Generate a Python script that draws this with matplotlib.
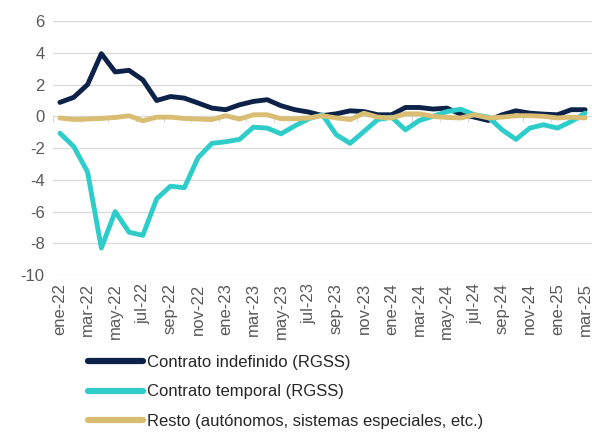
import numpy as np
import matplotlib
matplotlib.use("Agg")
import matplotlib.pyplot as plt
from matplotlib.lines import Line2D

plt.rcParams["font.family"] = ["Liberation Sans", "DejaVu Sans"]
plt.rcParams["axes.unicode_minus"] = False

# ------------------------------------------------------------
# data (monthly, ene-22 .. mar-25)
# ------------------------------------------------------------
months = ["ene", "feb", "mar", "abr", "may", "jun",
          "jul", "ago", "sep", "oct", "nov", "dic"]
years = ["22", "23", "24", "25"]
periods = [f"{m}-{y}" for y in years for m in months][:39]

indefinido = [0.88, 1.2, 2.0, 3.95, 2.8, 2.9, 2.3, 1.0, 1.25, 1.15,
              0.84, 0.52, 0.42, 0.73, 0.94, 1.05, 0.67, 0.42, 0.27, 0.05,
              0.16, 0.35, 0.3, 0.1, 0.1, 0.56, 0.56, 0.46, 0.52, 0.14,
              -0.05, -0.26, 0.1, 0.35, 0.2, 0.14, 0.1, 0.42, 0.42]

temporal = [-1.06, -1.9, -3.5, -8.3, -6.0, -7.3, -7.5, -5.2, -4.4, -4.5,
            -2.6, -1.7, -1.6, -1.45, -0.68, -0.74, -1.1, -0.6, -0.15, 0.1,
            -1.16, -1.7, -0.95, -0.2, -0.05, -0.85, -0.26, 0.0, 0.3, 0.45,
            0.1, -0.05, -0.85, -1.45, -0.74, -0.53, -0.74, -0.32, 0.2]

resto = [-0.1, -0.2, -0.17, -0.13, -0.07, 0.04, -0.28, -0.05, -0.05, -0.13,
         -0.17, -0.2, 0.04, -0.17, 0.1, 0.1, -0.15, -0.15, -0.1, 0.04,
         -0.1, -0.2, 0.2, -0.05, -0.1, 0.16, 0.16, 0.0, -0.07, -0.1,
         0.1, -0.1, -0.05, 0.04, 0.04, 0.0, -0.1, -0.05, -0.1]

series_names = ["Contrato indefinido (RGSS)",
                "Contrato temporal (RGSS)",
                "Resto (autónomos, sistemas especiales, etc.)"]
series_colors = ["#0c2249", "#2ecdca", "#d8bd72"]

y_ticks = [6, 4, 2, 0, -2, -4, -6, -8, -10]

# ------------------------------------------------------------
fig = plt.figure(figsize=(5.92, 4.32), dpi=100)
ax = fig.add_axes([0.0895, 0.3634, 0.9105, 0.5876])

x = np.arange(len(periods))
for vals, col, name in zip([indefinido, temporal, resto], series_colors, series_names):
    ax.plot(x, vals, color=col, lw=3.5, solid_joinstyle="round",
            solid_capstyle="round", label=name, zorder=3)

ax.set_xlim(-0.5, len(periods) - 0.5)
ax.set_ylim(-10, 6)
ax.set_yticks(y_ticks)
ax.yaxis.grid(True, color="#d9d9d9", lw=0.9, zorder=0)
ax.tick_params(axis="y", length=0, pad=6, labelsize=12, labelcolor="#595959")

for s in ["top", "right", "left"]:
    ax.spines[s].set_visible(False)

# category axis crosses at zero, tick marks between categories
ax.spines["bottom"].set_position(("data", 0))
ax.spines["bottom"].set_color("#d9d9d9")
ax.set_xticks(np.arange(-0.5, len(periods), 2))
ax.tick_params(axis="x", length=4, color="#d9d9d9", labelbottom=False)

# labels at the bottom of the plot
sec = ax.secondary_xaxis(0.0)
sec.set_xticks(x[::2])
sec.set_xticklabels(periods[::2], rotation=90, fontsize=12, color="#595959")
sec.tick_params(length=0, pad=6)
sec.spines["bottom"].set_visible(False)

handles = [Line2D([], [], color=c, lw=4.5, solid_capstyle="round") for c in series_colors]
fig.legend(handles, series_names, loc="upper left", bbox_to_anchor=(0.135, 0.197),
           frameon=False, fontsize=12, handlelength=3.3, handletextpad=0.25,
           labelspacing=0.85, borderpad=0, labelcolor="#262626")

fig.savefig("out.png", dpi=100)
